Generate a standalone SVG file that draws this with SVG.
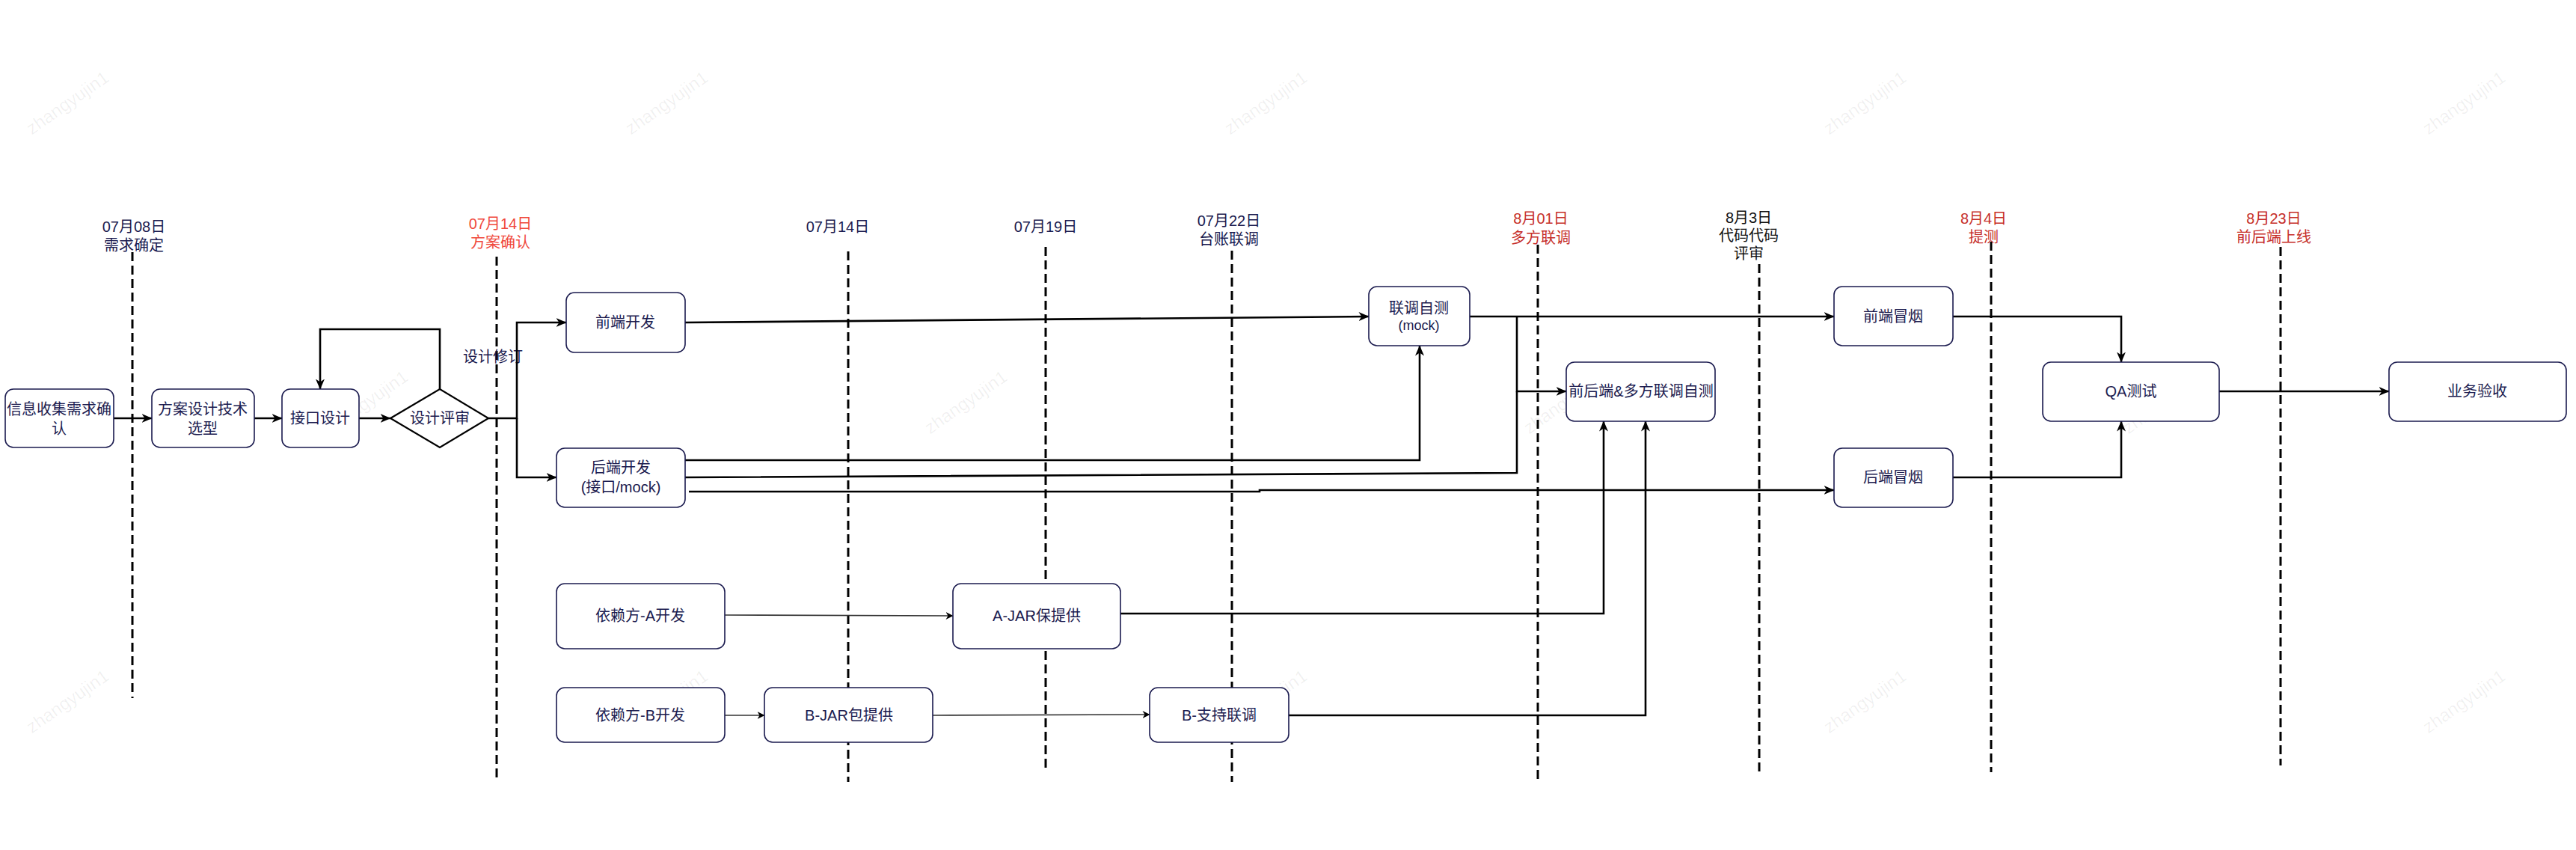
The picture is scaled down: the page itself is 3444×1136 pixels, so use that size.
<svg xmlns="http://www.w3.org/2000/svg" width="3444" height="1136" viewBox="0 0 3444 1136">
<defs>
<style>
.t{font-family:"Liberation Sans","Noto Sans CJK SC",sans-serif;font-size:20px;text-anchor:middle;dominant-baseline:central;fill:#1b1b4f}
.sm{font-size:18px}
.red1{fill:#f0483c}
.red2{fill:#c62f2a}
.blk{fill:#111}
.box{fill:#fff;stroke:#1b1b4f;stroke-width:1.6}
.dash{stroke:#000;stroke-width:3;stroke-dasharray:12 6;fill:none}
.c{stroke:#000;stroke-width:2.6;fill:none;marker-end:url(#ah)}
.cn{stroke:#000;stroke-width:2.6;fill:none}
.ct{stroke:#333;stroke-width:1.6;fill:none;marker-end:url(#aht)}
.wm{font-family:"Liberation Sans",sans-serif;font-size:24px;fill:#000;fill-opacity:0.06;text-anchor:middle;dominant-baseline:central}
</style>
<marker id="ah" viewBox="0 0 14 12" refX="13.5" refY="6" markerWidth="14" markerHeight="12" markerUnits="userSpaceOnUse" orient="auto">
<path d="M0,0 L14,6 L0,12 L4,6 Z" fill="#000"/>
</marker>
<marker id="aht" viewBox="0 0 10 10" refX="9.5" refY="5" markerWidth="10" markerHeight="10" markerUnits="userSpaceOnUse" orient="auto">
<path d="M0,0 L10,5 L0,10 L3,5 Z" fill="#000"/>
</marker>
</defs>
<rect width="3444" height="1136" fill="#fff"/>

<g id="watermarks">
<text class="wm" transform="translate(90,137) rotate(-35)">zhangyujin1</text>
<text class="wm" transform="translate(891,137) rotate(-35)">zhangyujin1</text>
<text class="wm" transform="translate(1692,137) rotate(-35)">zhangyujin1</text>
<text class="wm" transform="translate(2493,137) rotate(-35)">zhangyujin1</text>
<text class="wm" transform="translate(3294,137) rotate(-35)">zhangyujin1</text>
<text class="wm" transform="translate(490,537) rotate(-35)">zhangyujin1</text>
<text class="wm" transform="translate(1291,537) rotate(-35)">zhangyujin1</text>
<text class="wm" transform="translate(2092,537) rotate(-35)">zhangyujin1</text>
<text class="wm" transform="translate(2893,537) rotate(-35)">zhangyujin1</text>
<text class="wm" transform="translate(90,937) rotate(-35)">zhangyujin1</text>
<text class="wm" transform="translate(891,937) rotate(-35)">zhangyujin1</text>
<text class="wm" transform="translate(1692,937) rotate(-35)">zhangyujin1</text>
<text class="wm" transform="translate(2493,937) rotate(-35)">zhangyujin1</text>
<text class="wm" transform="translate(3294,937) rotate(-35)">zhangyujin1</text>
</g>

<g id="timeline">
<line class="dash" x1="177" y1="337" x2="177" y2="933"/>
<line class="dash" x1="664" y1="343" x2="664" y2="1045"/>
<line class="dash" x1="1134" y1="336" x2="1134" y2="1045"/>
<line class="dash" x1="1398" y1="330" x2="1398" y2="1032"/>
<line class="dash" x1="1647" y1="335" x2="1647" y2="1045"/>
<line class="dash" x1="2056" y1="327" x2="2056" y2="1046"/>
<line class="dash" x1="2352" y1="353" x2="2352" y2="1032"/>
<line class="dash" x1="2662" y1="323" x2="2662" y2="1032"/>
<line class="dash" x1="3049" y1="330" x2="3049" y2="1023"/>
<text class="t" x="179" y="303">07月08日</text>
<text class="t" x="179" y="328">需求确定</text>
<text class="t red1" x="669" y="299">07月14日</text>
<text class="t red1" x="669" y="324">方案确认</text>
<text class="t" x="1120" y="303">07月14日</text>
<text class="t" x="1398" y="303">07月19日</text>
<text class="t" x="1643" y="295">07月22日</text>
<text class="t" x="1643" y="320">台账联调</text>
<text class="t red2" x="2060" y="292">8月01日</text>
<text class="t red2" x="2060" y="318">多方联调</text>
<text class="t blk" x="2338" y="291">8月3日</text>
<text class="t blk" x="2338" y="315">代码代码</text>
<text class="t blk" x="2338" y="339">评审</text>
<text class="t red2" x="2652" y="292">8月4日</text>
<text class="t red2" x="2652" y="317">提测</text>
<text class="t red2" x="3040" y="292">8月23日</text>
<text class="t red2" x="3040" y="317">前后端上线</text>
</g>

<g id="connectors">
<path class="c" d="M152,559 L203,559"/>
<path class="c" d="M340,559 L377,559"/>
<path class="c" d="M480,559 L522,559"/>
<path class="c" d="M588,520 L588,440 L428,440 L428,520"/>
<text class="t" x="659" y="477">设计修订</text>
<path class="c" d="M653,559 L691,559 L691,431 L757,431"/>
<path class="c" d="M691,559 L691,638 L744,638"/>
<path class="c" d="M916,431 L1830,423"/>
<path class="c" d="M916,615 L1898,615 L1898,462"/>
<path class="c" d="M1965,423 L2452,423"/>
<path class="c" d="M2028,423 L2028,523 L2094,523"/>
<path class="cn" d="M916,638 L2028,632 L2028,523"/>
<path class="c" d="M921,657 L1684,657 L1684,655 L2452,655"/>
<path class="c" d="M2611,423 L2836,423 L2836,484"/>
<path class="c" d="M2611,638 L2836,638 L2836,563"/>
<path class="c" d="M2967,523 L3194,523"/>
<path class="ct" d="M969,822 L1274,823"/>
<path class="c" d="M1498,820 L2144,820 L2144,563"/>
<path class="ct" d="M969,956 L1022,956"/>
<path class="ct" d="M1247,956 L1537,955"/>
<path class="c" d="M1723,956 L2200,956 L2200,563"/>
</g>

<g id="n1"><rect class="box" x="7" y="520" width="145" height="78" rx="11"/><text class="t" x="79" y="547">信息收集需求确</text><text class="t" x="79" y="573">认</text></g>
<g id="n2"><rect class="box" x="203" y="520" width="137" height="78" rx="11"/><text class="t" x="271" y="547">方案设计技术</text><text class="t" x="271" y="573">选型</text></g>
<g id="n3"><rect class="box" x="377" y="520" width="103" height="78" rx="11"/><text class="t" x="428" y="559">接口设计</text></g>
<g id="n4"><polygon points="522,559 588,520 653,559 588,598" fill="#fff" stroke="#000" stroke-width="2.2"/><text class="t" x="588" y="559">设计评审</text></g>
<g id="n5"><rect class="box" x="757" y="391" width="159" height="80" rx="11"/><text class="t" x="836" y="431">前端开发</text></g>
<g id="n6"><rect class="box" x="744" y="599" width="172" height="79" rx="11"/><text class="t" x="830" y="625">后端开发</text><text class="t" x="830" y="651">(接口/mock)</text></g>
<g id="n7"><rect class="box" x="1830" y="383" width="135" height="79" rx="11"/><text class="t" x="1897" y="412">联调自测</text><text class="t sm" x="1897" y="435">(mock)</text></g>
<g id="n8"><rect class="box" x="2094" y="484" width="199" height="79" rx="11"/><text class="t" x="2194" y="523">前后端&amp;多方联调自测</text></g>
<g id="n9"><rect class="box" x="2452" y="383" width="159" height="79" rx="11"/><text class="t" x="2531" y="423">前端冒烟</text></g>
<g id="n10"><rect class="box" x="2452" y="599" width="159" height="79" rx="11"/><text class="t" x="2531" y="638">后端冒烟</text></g>
<g id="n11"><rect class="box" x="2731" y="484" width="236" height="79" rx="11"/><text class="t" x="2849" y="523">QA测试</text></g>
<g id="n12"><rect class="box" x="3194" y="484" width="237" height="79" rx="11"/><text class="t" x="3312" y="523">业务验收</text></g>
<g id="n13"><rect class="box" x="744" y="780" width="225" height="87" rx="11"/><text class="t" x="856" y="823">依赖方-A开发</text></g>
<g id="n14"><rect class="box" x="1274" y="780" width="224" height="87" rx="11"/><text class="t" x="1386" y="823">A-JAR保提供</text></g>
<g id="n15"><rect class="box" x="744" y="919" width="225" height="73" rx="11"/><text class="t" x="856" y="956">依赖方-B开发</text></g>
<g id="n16"><rect class="box" x="1022" y="919" width="225" height="73" rx="11"/><text class="t" x="1135" y="956">B-JAR包提供</text></g>
<g id="n17"><rect class="box" x="1537" y="919" width="186" height="73" rx="11"/><text class="t" x="1630" y="956">B-支持联调</text></g>
</svg>
